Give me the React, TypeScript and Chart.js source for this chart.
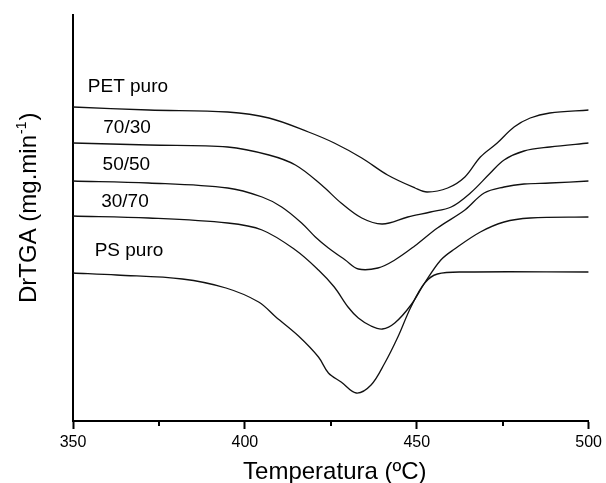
import React, { useEffect, useRef } from 'react';
import { Chart, registerables } from 'chart.js';
Chart.register(...registerables);

const FONT = '"Liberation Sans", Arial, Helvetica, sans-serif';

// x axis (temperature, ºC)
const X_MIN = 350;
const X_MAX = 500;
const X_MAJOR = [350, 400, 450, 500];
const X_MINOR = [375, 425, 475];
// y axis: DrTGA in arbitrary (offset) units, no tick labels
const Y_MIN = 0;
const Y_MAX = 406;

const SERIES_NAMES = ['PET puro', '70/30', '50/50', '30/70', 'PS puro'];

const PET_T = [350, 372, 395, 407, 418.5, 426, 434, 441.5, 449.5, 453, 459, 464, 468.5, 473.4, 478.3, 483, 488.7, 500];
const PET_V = [314, 311, 309, 303, 289, 278, 263, 246, 233, 229, 233, 244, 264, 278, 294, 303, 308, 311];

const B7030_T = [350, 372, 395, 407, 414.7, 422.3, 428, 434, 440, 447.4, 454, 460, 465.6, 471.4, 475.4, 481.2, 488.7, 500];
const B7030_V = [278, 276, 274, 266, 256, 236, 218, 203, 197, 204, 209, 214, 228, 248, 261, 270, 274, 278];

const B5050_T = [350, 372, 395, 405, 410.7, 416.5, 420.5, 424.3, 429.2, 433, 438.7, 443.6, 449.4, 456, 464, 469.6, 475.4, 481.2, 488.7, 500];
const B5050_V = [240, 238, 233, 224, 214, 198, 184, 173, 161, 152, 153, 161, 175, 193, 211, 228, 234, 237, 238, 240];

const B3070_T = [350, 372, 395, 405, 414.7, 421.4, 426, 430, 433, 436.7, 440, 443.6, 448.3, 452.3, 457, 461, 468.5, 475.4, 483, 500];
const B3070_V = [205, 203, 198, 191, 171, 151, 134, 114, 103, 95, 92, 98, 116, 138, 161, 172, 189, 199, 203, 204];

const PS_T = [350, 362.7, 381.8, 394.5, 404, 409, 415.6, 421.4, 424.3, 428, 432.4, 436.7, 440.7, 444.5, 448.3, 452.3, 456, 464, 500];
const PS_V = [148, 146, 142, 133, 119, 104, 85, 64, 48, 39, 28, 36, 58, 84, 114, 138, 147, 149, 149];

const SERIES_T = [PET_T, B7030_T, B5050_T, B3070_T, PS_T];
const SERIES_V = [PET_V, B7030_V, B5050_V, B3070_V, PS_V];

// label anchors (data coords: left edge temperature, baseline value)
const LABEL_T = [354.3, 358.8, 358.6, 358.2, 356.3];
const LABEL_V = [329, 288, 251, 214, 165];

const X_TITLE = 'Temperatura (ºC)';
const Y_TITLE_MAIN = 'DrTGA (mg.min';
const Y_TITLE_SUP = '-1';
const Y_TITLE_END = ')';

const overlay = {
  id: 'overlay',
  afterDraw(chart: any) {
    const { ctx, chartArea, scales } = chart;
    const xs = scales.x;
    const ys = scales.y;
    ctx.save();
    // minor ticks
    ctx.strokeStyle = '#000';
    ctx.lineWidth = 2;
    X_MINOR.forEach((v) => {
      const px = Math.round(xs.getPixelForValue(v));
      ctx.beginPath();
      ctx.moveTo(px, chartArea.bottom);
      ctx.lineTo(px, chartArea.bottom + 5);
      ctx.stroke();
    });
    // series labels
    ctx.fillStyle = '#000';
    ctx.font = `19px ${FONT}`;
    ctx.textAlign = 'left';
    ctx.textBaseline = 'alphabetic';
    SERIES_NAMES.forEach((name, i) => {
      ctx.fillText(name, xs.getPixelForValue(LABEL_T[i]), ys.getPixelForValue(LABEL_V[i]));
    });
    // x title
    ctx.font = `24px ${FONT}`;
    ctx.textAlign = 'center';
    ctx.fillText(X_TITLE, (chartArea.left + chartArea.right) / 2 + 4, 479);
    // y title with superscript
    ctx.save();
    ctx.translate(36, 303);
    ctx.rotate(-Math.PI / 2);
    ctx.textAlign = 'left';
    ctx.font = `24px ${FONT}`;
    ctx.fillText(Y_TITLE_MAIN, 0, 0);
    let w = ctx.measureText(Y_TITLE_MAIN).width;
    ctx.font = `14px ${FONT}`;
    ctx.fillText(Y_TITLE_SUP, w + 1, -10);
    w += ctx.measureText(Y_TITLE_SUP).width + 2;
    ctx.font = `24px ${FONT}`;
    ctx.fillText(Y_TITLE_END, w, 0);
    ctx.restore();
    ctx.restore();
  },
};

export default function App() {
  const ref = useRef<HTMLCanvasElement>(null);
  useEffect(() => {
    if (!ref.current) return;
    const datasets = SERIES_NAMES.map((name, i) => ({
      label: name,
      data: SERIES_T[i].map((t, j) => ({ x: t, y: SERIES_V[i][j] })),
      borderColor: '#111',
      borderWidth: 1.3,
      pointRadius: 0,
      tension: 0.35,
      fill: false,
    }));
    const chart = new Chart(ref.current, {
      type: 'line',
      data: { datasets },
      options: {
        animation: false,
        responsive: false,
        layout: { padding: { top: 15, right: 14, left: 0, bottom: 0 } },
        plugins: { legend: { display: false }, tooltip: { enabled: false } },
        scales: {
          x: {
            type: 'linear',
            min: X_MIN,
            max: X_MAX,
            afterBuildTicks: (s: any) => {
              s.ticks = [...X_MAJOR, ...X_MINOR].sort((a, b) => a - b).map((v) => ({ value: v }));
            },
            ticks: {
              autoSkip: false,
              maxRotation: 0,
              padding: 4,
              color: '#000',
              font: { family: FONT, size: 16 },
              callback: (v: any) => (X_MAJOR.includes(Number(v)) ? String(v) : ''),
            },
            grid: {
              drawOnChartArea: false,
              drawTicks: true,
              tickLength: 8,
              tickWidth: 2,
              tickColor: (c: any) => (c.tick && X_MAJOR.includes(c.tick.value) ? '#000' : 'rgba(0,0,0,0)'),
            },
            border: { display: true, color: '#000', width: 2 },
            afterFit: (s: any) => {
              s.height = 62;
            },
          },
          y: {
            type: 'linear',
            min: Y_MIN,
            max: Y_MAX,
            ticks: { display: false },
            grid: { display: false },
            border: { display: true, color: '#000', width: 2 },
            afterFit: (s: any) => {
              s.width = 73;
            },
          },
        },
      },
      plugins: [overlay],
    });
    return () => chart.destroy();
  }, []);
  return (
    <div style={{ position: 'absolute', left: 0, top: 0, width: 606, height: 483, background: '#fff' }}>
      <canvas ref={ref} width={606} height={483} style={{ display: 'block' }} />
    </div>
  );
}
